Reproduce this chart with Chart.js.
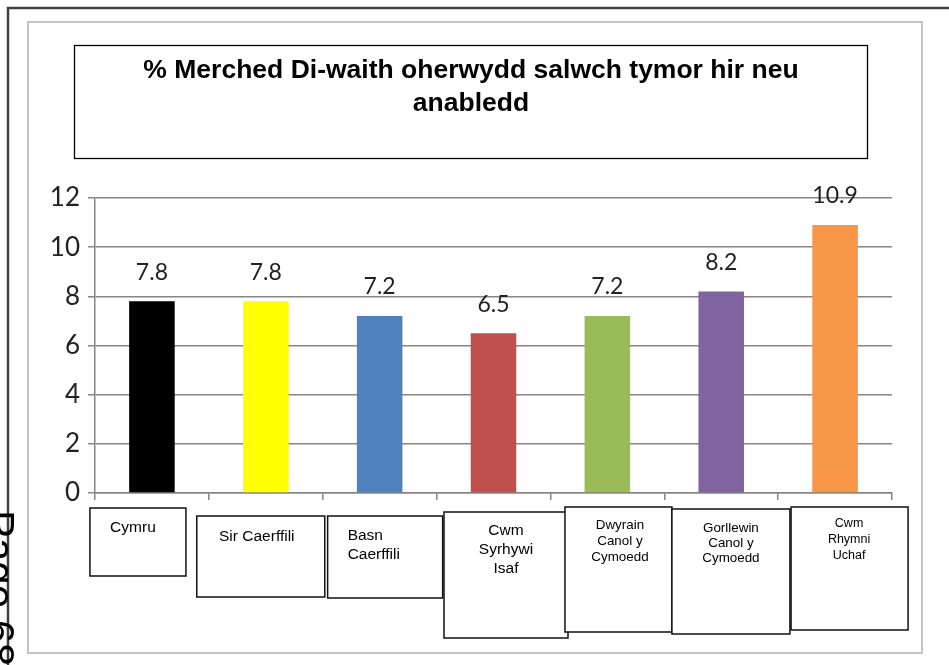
<!DOCTYPE html>
<html>
<head>
<meta charset="utf-8">
<script src="https://cdn.jsdelivr.net/npm/chart.js@4"></script>
<style>
  html, body { margin: 0; padding: 0; background: #fff; }
  #wrap { width: 949px; height: 665px; position: relative; }
</style>
</head>
<body>
<div id="wrap"><canvas id="c" width="949" height="665"></canvas></div>
<script>
// ---- data ----
const categoryLines = [
  ['Cymru'],
  ['Sir Caerffili'],
  ['Basn', 'Caerffili'],
  ['Cwm', 'Syrhywi', 'Isaf'],
  ['Dwyrain', 'Canol y', 'Cymoedd'],
  ['Gorllewin', 'Canol y', 'Cymoedd'],
  ['Cwm', 'Rhymni', 'Uchaf']
];
const categories = categoryLines.map(l => l.join(' '));
const values = [7.8, 7.8, 7.2, 6.5, 7.2, 8.2, 10.9];
const valueLabels = ['7.8', '7.8', '7.2', '6.5', '7.2', '8.2', '10.9'];
const barColors = ['#000000', '#FFFF00', '#4F81BD', '#C0504D', '#9BBB59', '#8064A2', '#F79646'];
const yMin = 0, yMax = 12, yStep = 2;
const titleLines = ['% Merched Di-waith oherwydd salwch tymor hir neu', 'anabledd'];
const pageText = 'Page 68';

// ---- layout / style of the label boxes (relative to each category centre) ----
const boxStyle = [
  { dx0: -62, dx1: 34, y0: 508, y1: 576, tx: -19, align: 'center', ty: 528, lh: 19, size: 15.5 },
  { dx0: -69, dx1: 59, y0: 516, y1: 597, tx: -9, align: 'center', ty: 537, lh: 19, size: 15.5 },
  { dx0: -52, dx1: 63, y0: 516, y1: 598, tx: -32, align: 'left', ty: 536, lh: 19, size: 15.5 },
  { dx0: -49.5, dx1: 74.5, y0: 512, y1: 638, tx: 12.5, align: 'center', ty: 531, lh: 19, size: 15.5 },
  { dx0: -42.4, dx1: 64.6, y0: 507, y1: 632, tx: 12.6, align: 'center', ty: 525, lh: 16, size: 13.4 },
  { dx0: -49.3, dx1: 68.7, y0: 509, y1: 634, tx: 9.7, align: 'center', ty: 528, lh: 15, size: 13.4 },
  { dx0: -44, dx1: 73, y0: 507, y1: 630, tx: 14, align: 'center', ty: 524, lh: 16, size: 12.5 }
];

const SANS = '"Liberation Sans", Arial, sans-serif';
const NUM = 'Lato, "Open Sans", sans-serif';
const GRID = '#868686';

const decor = {
  id: 'decor',
  beforeDraw(chart) {
    const ctx = chart.ctx;
    ctx.save();
    ctx.fillStyle = '#fff';
    ctx.fillRect(0, 0, chart.width, chart.height);
    // inner light frame
    ctx.strokeStyle = '#c4c4c4';
    ctx.lineWidth = 2;
    ctx.strokeRect(28, 22, 894, 631);
    // outer dark frame (top + left)
    ctx.strokeStyle = '#404040';
    ctx.lineWidth = 2.5;
    ctx.beginPath();
    ctx.moveTo(8, 665);
    ctx.lineTo(8, 8);
    ctx.lineTo(949, 8);
    ctx.stroke();
    // title box
    ctx.strokeStyle = '#000';
    ctx.lineWidth = 1.3;
    ctx.strokeRect(74.5, 45.5, 793, 113);
    ctx.fillStyle = '#000';
    ctx.font = 'bold 26.5px ' + SANS;
    ctx.textAlign = 'center';
    ctx.textBaseline = 'middle';
    titleLines.forEach((t, i) => ctx.fillText(t, 471, 71 + i * 33));
    ctx.restore();
  },
  afterDraw(chart) {
    const ctx = chart.ctx;
    const xs = chart.scales.x;
    const meta = chart.getDatasetMeta(0);
    ctx.save();
    // value labels
    ctx.fillStyle = '#222';
    ctx.font = '23px ' + NUM;
    ctx.textAlign = 'center';
    ctx.textBaseline = 'middle';
    meta.data.forEach((bar, i) => {
      ctx.fillText(valueLabels[i], bar.x, bar.y - 29);
    });
    // category label boxes
    categoryLines.forEach((lines, i) => {
      const b = boxStyle[i];
      const cx = xs.getPixelForValue(i);
      ctx.strokeStyle = '#111';
      ctx.lineWidth = 1.5;
      ctx.fillStyle = '#fff';
      ctx.fillRect(cx + b.dx0, b.y0, b.dx1 - b.dx0, b.y1 - b.y0);
      ctx.strokeRect(cx + b.dx0, b.y0, b.dx1 - b.dx0, b.y1 - b.y0);
      ctx.fillStyle = '#000';
      ctx.font = b.size + 'px ' + SANS;
      ctx.textAlign = b.align;
      ctx.textBaseline = 'middle';
      lines.forEach((t, j) => ctx.fillText(t, cx + b.tx, b.ty + j * b.lh));
    });
    // rotated page marker
    ctx.translate(-15, 510);
    ctx.rotate(Math.PI / 2);
    ctx.fillStyle = '#000';
    ctx.font = '42px ' + SANS;
    ctx.textAlign = 'left';
    ctx.textBaseline = 'alphabetic';
    ctx.fillText(pageText, 0, 0);
    ctx.restore();
  }
};

new Chart(document.getElementById('c'), {
  type: 'bar',
  data: {
    labels: categories,
    datasets: [{
      data: values,
      backgroundColor: barColors,
      borderWidth: 0,
      barPercentage: 0.4,
      categoryPercentage: 1
    }]
  },
  options: {
    responsive: false,
    animation: false,
    events: [],
    layout: { padding: { top: 198, right: 57, left: 0, bottom: 0 } },
    plugins: { legend: { display: false }, title: { display: false }, tooltip: { enabled: false } },
    scales: {
      x: {
        offset: true,
        grid: { display: true, drawOnChartArea: false, drawTicks: true, tickLength: 7, color: GRID, lineWidth: 1.5, offset: true },
        border: { display: true, color: GRID, width: 1.5 },
        ticks: { display: false },
        afterFit(s) { s.height = 172; }
      },
      y: {
        min: yMin, max: yMax,
        ticks: { stepSize: yStep, padding: 8, color: '#222', font: { family: NUM, size: 26 } },
        grid: { color: GRID, lineWidth: 1.5, tickLength: 7, drawTicks: true },
        border: { display: true, color: GRID, width: 1.5 },
        afterFit(s) { s.width = 95; }
      }
    }
  },
  plugins: [decor]
});
</script>
</body>
</html>
